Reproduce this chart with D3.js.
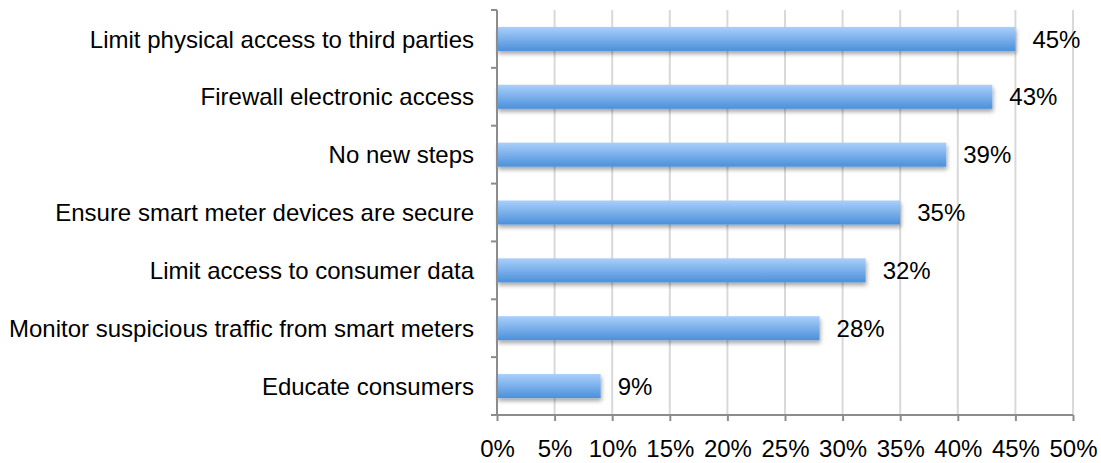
<!DOCTYPE html>
<html>
<head>
<meta charset="utf-8">
<script src="https://cdn.jsdelivr.net/npm/d3@7"></script>
<style>
  html, body { margin: 0; padding: 0; background: #fff; }
  svg { display: block; }
  text { font-family: "Liberation Sans", Arial, Helvetica, sans-serif; fill: #000; }
</style>
</head>
<body>
<svg id="chart" width="1101" height="463"></svg>
<script>
// Survey responses: steps taken to secure smart meter data
const categories = [
  "Limit physical access to third parties",
  "Firewall electronic access",
  "No new steps",
  "Ensure smart meter devices are secure",
  "Limit access to consumer data",
  "Monitor suspicious traffic from smart meters",
  "Educate consumers"
];
const values = [45, 43, 39, 35, 32, 28, 9];
const xTicks = [0, 5, 10, 15, 20, 25, 30, 35, 40, 45, 50];

const svg = d3.select("#chart");
const margin = { left: 497, right: 28, top: 10, bottom: 48 };
const W = 1101, H = 463;
const fontSize = 24;

const x = d3.scaleLinear().domain([0, 50]).range([margin.left, W - margin.right]);
const y = d3.scaleBand().domain(categories).range([margin.top, H - margin.bottom])
  .paddingInner(0.585).paddingOuter(0.2925);

const defs = svg.append("defs");
const grad = defs.append("linearGradient").attr("id", "barFill")
  .attr("x1", 0).attr("y1", 0).attr("x2", 0).attr("y2", 1);
grad.append("stop").attr("offset", "0%").attr("stop-color", "#aacffb");
grad.append("stop").attr("offset", "100%").attr("stop-color", "#4b90da");

const shadow = defs.append("filter").attr("id", "barShadow")
  .attr("x", "-5%").attr("y", "-30%").attr("width", "110%").attr("height", "180%");
shadow.append("feGaussianBlur").attr("in", "SourceAlpha").attr("stdDeviation", 2.2);
shadow.append("feOffset").attr("dx", 1).attr("dy", 3).attr("result", "off");
shadow.append("feComponentTransfer").append("feFuncA").attr("type", "linear").attr("slope", 0.35);
const merge = shadow.append("feMerge");
merge.append("feMergeNode");
merge.append("feMergeNode").attr("in", "SourceGraphic");

// vertical gridlines
svg.append("g").selectAll("line").data(xTicks.filter(d => d > 0)).join("line")
  .attr("x1", d => x(d)).attr("x2", d => x(d))
  .attr("y1", margin.top).attr("y2", H - margin.bottom)
  .attr("stroke", "#d9d9d9").attr("stroke-width", 2);

// bars
svg.append("g").selectAll("rect").data(categories).join("rect")
  .attr("x", x(0))
  .attr("y", d => y(d))
  .attr("width", (d, i) => x(values[i]) - x(0))
  .attr("height", y.bandwidth())
  .attr("fill", "url(#barFill)")
  .attr("filter", "url(#barShadow)");

// value labels
svg.append("g").selectAll("text").data(categories).join("text")
  .attr("x", (d, i) => x(values[i]) + 17)
  .attr("y", d => y(d) + y.bandwidth() / 2)
  .attr("dy", "0.36em")
  .attr("font-size", fontSize)
  .text((d, i) => values[i] + "%");

// y axis
const yAxis = svg.append("g").attr("transform", `translate(${x(0)},0)`);
const bandTicks = d3.range(categories.length + 1).map(i => margin.top + i * y.step());
yAxis.append("line").attr("x1", 0).attr("x2", 0)
  .attr("y1", margin.top).attr("y2", H - margin.bottom)
  .attr("stroke", "#8c8c8c").attr("stroke-width", 2);
yAxis.selectAll("line.tick").data(bandTicks).join("line").attr("class", "tick")
  .attr("x1", -6).attr("x2", 0).attr("y1", d => d).attr("y2", d => d)
  .attr("stroke", "#8c8c8c").attr("stroke-width", 2);
yAxis.selectAll("text").data(categories).join("text")
  .attr("x", -23)
  .attr("y", d => y(d) + y.bandwidth() / 2)
  .attr("dy", "0.36em")
  .attr("text-anchor", "end")
  .attr("font-size", fontSize)
  .text(d => d);

// x axis
const xAxisG = svg.append("g").attr("transform", `translate(0,${H - margin.bottom})`)
  .call(d3.axisBottom(x).tickValues(xTicks).tickSize(6).tickPadding(19).tickFormat(d => d + "%"));
xAxisG.select(".domain").attr("stroke", "#8c8c8c").attr("stroke-width", 2)
  .attr("d", `M${x(0)},0H${x(50)}`);
xAxisG.selectAll(".tick line").attr("stroke", "#8c8c8c").attr("stroke-width", 2);
xAxisG.selectAll(".tick text").attr("font-size", fontSize)
  .attr("font-family", "\"Liberation Sans\", Arial, sans-serif").attr("fill", "#000");
</script>
</body>
</html>
